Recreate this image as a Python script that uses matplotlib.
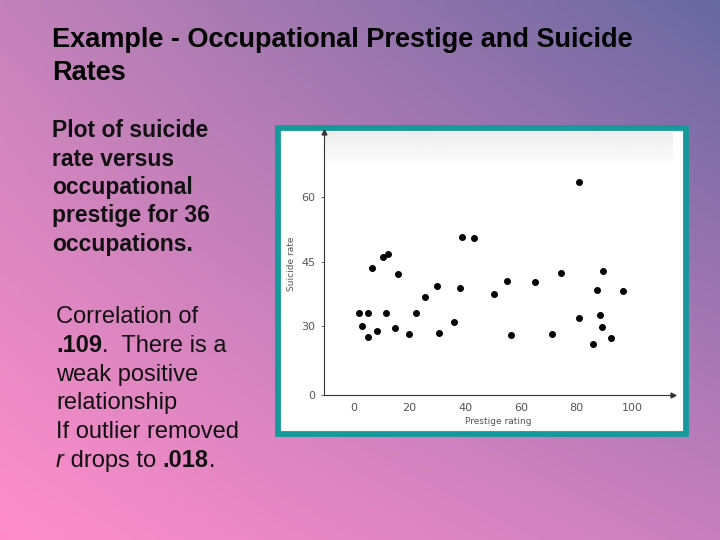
import numpy as np
import matplotlib
matplotlib.use("Agg")
import matplotlib.pyplot as plt
from matplotlib.patches import Rectangle

# datos (prestigio, tasa de suicidio)
prestige = [2.0, 5.1, 3.1, 5.1, 8.4, 6.7, 10.3, 12.1, 11.7, 14.8, 15.9, 19.9,
            22.2, 25.4, 29.9, 30.5, 35.8, 38.2, 38.8, 43.1, 50.4, 55.0, 56.6,
            65.2, 71.2, 74.5, 80.7, 80.7, 85.9, 87.2, 88.3, 89.2, 89.6, 92.3, 96.8]
suicide = [33.1, 33.1, 29.9, 25.4, 28.1, 43.6, 46.2, 46.9, 33.1, 29.2, 42.1, 26.4,
           33.0, 36.8, 39.3, 27.0, 30.9, 39.0, 50.8, 50.5, 37.5, 40.6, 26.3,
           40.3, 26.8, 42.4, 63.6, 32.0, 22.2, 38.4, 32.5, 29.8, 42.8, 24.9, 38.3]
xticks = [0, 20, 40, 60, 80, 100]
yticks = [0, 30, 45, 60]

title_lines = ["Example - Occupational Prestige and Suicide", "Rates"]
bold_lines = ["Plot of suicide", "rate versus", "occupational",
              "prestige for 36", "occupations."]

W, H = 720, 540
fig = plt.figure(figsize=(7.2, 5.4), dpi=100)

# fondo degradado
bg = fig.add_axes([0, 0, 1, 1])
bg.set_axis_off()
tl = np.array([196, 130, 186]) / 255
tr = np.array([104, 104, 160]) / 255
bl = np.array([255, 142, 202]) / 255
br = np.array([200, 128, 190]) / 255
u = np.linspace(0, 1, 200)[None, :, None]
v = np.linspace(0, 1, 150)[:, None, None]
img = (1 - v) * ((1 - u) * tl + u * tr) + v * ((1 - u) * bl + u * br)
bg.imshow(img, aspect="auto", extent=(0, 1, 0, 1), interpolation="bilinear")
bg.set_xlim(0, 1)
bg.set_ylim(0, 1)

# recuadro del grafico
fig.patches.append(Rectangle((277.5 / W, 1 - 433.5 / H), 408 / W, 306 / H,
                             transform=fig.transFigure, facecolor="white",
                             edgecolor="#15999a", linewidth=4.2, zorder=1))

font = "Liberation Sans"
for i, t in enumerate(title_lines):
    fig.text(52 / W, 1 - (47 + i * 33) / H, t, fontsize=19.5, fontweight="bold",
             family=font, va="baseline", color="black")

for i, t in enumerate(bold_lines):
    fig.text(52 / W, 1 - (137 + i * 28.5) / H, t, fontsize=16.5, fontweight="bold",
             family=font, va="baseline", color="#111111")

rend = fig.canvas.get_renderer()


def runs(x, y, parts):
    for txt, weight, style in parts:
        t = fig.text(x / W, 1 - y / H, txt, fontsize=17, fontweight=weight,
                     fontstyle=style, family=font, va="baseline", color="#111111")
        x += t.get_window_extent(rend).width


lines = [
    [("Correlation of", "normal", "normal")],
    [(".109", "bold", "normal"), (".  There is a", "normal", "normal")],
    [("weak positive", "normal", "normal")],
    [("relationship", "normal", "normal")],
    [("If outlier removed", "normal", "normal")],
    [("r", "normal", "italic"), (" drops to ", "normal", "normal"),
     (".018", "bold", "normal"), (".", "normal", "normal")],
]
for i, parts in enumerate(lines):
    runs(56, 323 + i * 28.8, parts)

# escala y comprimida por debajo de 30 (eje roto en el original)
def fwd(y):
    y = np.asarray(y, dtype=float)
    return np.where(y < 30, 14 + y * 16 / 30, y)


def inv(y):
    y = np.asarray(y, dtype=float)
    return np.where(y < 30, (y - 14) * 30 / 16, y)


ax = fig.add_axes([324.3 / W, 145 / H, 348.7 / W, 263 / H], zorder=3)
ax.patch.set_alpha(0)
ax.set_yscale("function", functions=(fwd, inv))
ax.set_xlim(-10.6, 114.6)
ax.set_ylim(0, 75.2)

# banda gris en la parte superior
ax.imshow(np.linspace(0.93, 1.0, 50)[:, None] * np.ones((1, 2)), cmap="gray",
          vmin=0, vmax=1, aspect="auto", extent=(0, 1, 0.86, 1),
          transform=ax.transAxes, zorder=0)

ax.scatter(prestige, suicide, s=16, color="black", zorder=3)

for s in ["top", "right"]:
    ax.spines[s].set_visible(False)
for s in ["left", "bottom"]:
    ax.spines[s].set_linewidth(0.8)
    ax.spines[s].set_color("#333333")
ax.plot(1, 0, ">", color="#333333", ms=3.5, transform=ax.transAxes, clip_on=False)
ax.plot(0, 1, "^", color="#333333", ms=3.5, transform=ax.transAxes, clip_on=False)

ax.set_xticks(xticks)
ax.set_yticks(yticks)
ax.tick_params(axis="x", length=0, pad=6, labelsize=8, labelcolor="#555555")
ax.tick_params(axis="y", length=2.5, width=0.6, color="#555555", pad=4,
               labelsize=8, labelcolor="#555555")
ax.minorticks_off()
ax.set_xlabel("Prestige rating", fontsize=6.5, color="#555555", labelpad=3)
ax.set_ylabel("Suicide rate", fontsize=6.5, color="#555555", labelpad=4)

fig.savefig("out.png", dpi=100)
